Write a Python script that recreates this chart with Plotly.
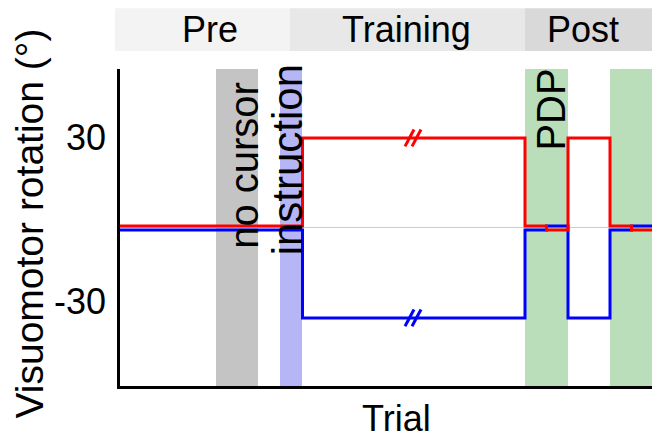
import plotly.graph_objects as go

# ---- data (trial units) ----
segment_edges = [0, 36.5, 81, 85.3, 89.6, 98, 102.3, 106.6]
red_rotation = [0, 30, 0, 0, 30, 0, 0]
blue_rotation = [0, -30, 0, 0, -30, 0, 0]
# which line sits on top where both are at zero (+1 = above)
red_side = [1, 0, 1, -1, 0, 1, -1]

phase_names = ["Pre", "Training", "Post"]
phase_edges = [-1, 34, 81, 107]
phase_label_x = [18.0, 57.4, 92.6]

band_labels = ["no cursor", "instruction", "PDP", ""]
band_starts = [19.2, 32.0, 81.0, 98.0]
band_ends = [27.6, 36.4, 89.6, 106.6]
band_colors = ["#c4c4c4", "#b6b6f6", "#badeba", "#badeba"]

y_ticks = [30, -30]
break_x = 58.6

XMIN, XMAX = 0, 107.4
YMIN, YMAX = -52.7, 53.0
SEP = 0.65
FONT = "Liberation Sans, Arial, sans-serif"

def stepxy(vals, side):
    xs = list(segment_edges)
    ys = [v + s * SEP for v, s in zip(vals, side)]
    ys = ys + [ys[-1]]
    return xs, ys

fig = go.Figure()

shapes = []
for s, e, c in zip(band_starts, band_ends, band_colors):
    shapes.append(dict(type="rect", xref="x", yref="paper", x0=s, x1=e, y0=0, y1=1,
                       fillcolor=c, line_width=0, layer="below"))

def xp(v):
    return (v - XMIN) / (XMAX - XMIN)

header_cols = ["#f3f3f3", "#e8e8e8", "#d9d9d9"]
annotations = []
for i, name in enumerate(phase_names):
    x0, x1 = xp(phase_edges[i]), xp(phase_edges[i + 1])
    shapes.append(dict(type="rect", xref="paper", yref="paper", x0=x0, x1=x1,
                       y0=1.057, y1=1.192, fillcolor=header_cols[i], line_width=0))
    annotations.append(dict(text=name, xref="paper", yref="paper", x=xp(phase_label_x[i]),
                            y=1.124, showarrow=False, font=dict(size=36, color="black", family=FONT),
                            xanchor="center", yanchor="middle"))

rx, ry = stepxy(red_rotation, red_side)
bx, by = stepxy(blue_rotation, [-s for s in red_side])
fig.add_trace(go.Scatter(x=bx, y=by, mode="lines", line=dict(color="#0000ff", width=3, shape="hv"),
                         hoverinfo="skip"))
fig.add_trace(go.Scatter(x=rx, y=ry, mode="lines", line=dict(color="#ff0000", width=3, shape="hv"),
                         hoverinfo="skip"))

# break marks
for yv, col in [(red_rotation[1], "#ff0000"), (blue_rotation[1], "#0000ff")]:
    for dx in (-0.7, 0.7):
        cx = break_x + dx
        shapes.append(dict(type="line", xref="x", yref="y", x0=cx - 0.9, x1=cx + 0.9,
                           y0=yv - 2.8, y1=yv + 2.8, line=dict(color=col, width=3)))

# band labels (rotated)
label_x = [24.8, 33.5, 86.3, None]
label_y = [20.7, 22.7, 39.3, None]
label_size = [40, 42, 40, None]
for t, lx, ly, fs in zip(band_labels, label_x, label_y, label_size):
    if not t:
        continue
    annotations.append(dict(text=t, x=lx, y=ly, xref="x", yref="y", showarrow=False, textangle=-90,
                            font=dict(size=fs, color="black", family=FONT),
                            xanchor="center", yanchor="middle"))

# y tick labels
for v in y_ticks:
    annotations.append(dict(text=str(v), x=0, y=v, xref="paper", yref="y", showarrow=False,
                            xanchor="right", yanchor="middle" if v > 0 else "bottom",
                            xshift=-12, yshift=0 if v > 0 else -6,
                            font=dict(size=36, color="black", family=FONT)))

annotations.append(dict(text="Visuomotor rotation (°)", x=0, y=0.5, xref="paper", yref="paper",
                        showarrow=False, textangle=-90, xanchor="center", yanchor="middle",
                        xshift=-91, yshift=4, font=dict(size=39, color="black", family=FONT)))
annotations.append(dict(text="Trial", x=0.515, y=0, xref="paper", yref="paper", showarrow=False,
                        xanchor="center", yanchor="top", yshift=-10,
                        font=dict(size=36, color="black", family=FONT)))

# the page body adds an 8px margin, so the figure is drawn 8px smaller
fig.update_layout(
    width=652, height=432,
    margin=dict(l=112, r=3, t=61, b=54),
    paper_bgcolor="white", plot_bgcolor="white",
    showlegend=False,
    shapes=shapes, annotations=annotations,
    xaxis=dict(range=[XMIN, XMAX], showline=True, linecolor="black", linewidth=3,
               showgrid=False, zeroline=False, showticklabels=False, ticks=""),
    yaxis=dict(range=[YMIN, YMAX], showline=True, linecolor="black", linewidth=3,
               showgrid=False, zeroline=True, zerolinecolor="#cccccc", zerolinewidth=1,
               showticklabels=False, ticks=""),
)

fig.write_html("out.html")
